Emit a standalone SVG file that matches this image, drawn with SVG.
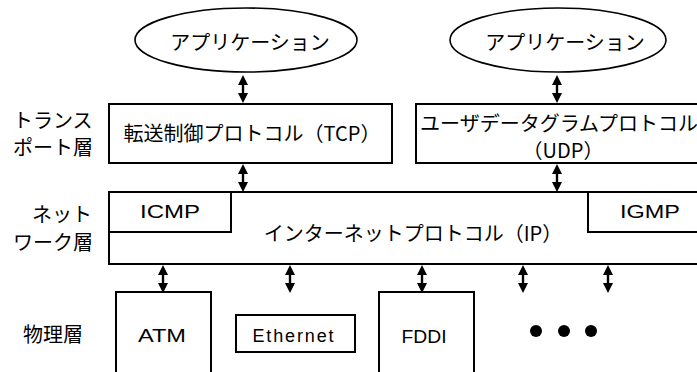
<svg xmlns="http://www.w3.org/2000/svg" xmlns:xlink="http://www.w3.org/1999/xlink" width="697" height="372" viewBox="0 0 697 372">
  <style>
    .box { fill: #fff; stroke: #000; stroke-width: 2; }
    .app { fill: #fff; stroke: #000; stroke-width: 1.6; }
    .jp { font-family: "Noto Sans CJK JP", "Noto Sans CJK SC", sans-serif; font-size: 20px; fill: #000; }
    .en { font-family: "Liberation Sans", Arial, sans-serif; font-size: 18px; fill: #000; }
    .mid { text-anchor: middle; }
  </style>
  <defs>
    <!-- vertical double-headed arrow, 28 px tall, origin at the top tip -->
    <g id="darrow">
      <path d="M0,0 L5,10 L-5,10 Z M0,28 L5,18 L-5,18 Z" fill="#000"/>
      <rect x="-1.2" y="8" width="2.4" height="12" fill="#000"/>
    </g>
  </defs>
  <rect width="697" height="372" fill="#fff"/>

  <!-- layer names -->
  <g id="label-transport">
    <text class="jp" x="13" y="128">トランス</text>
    <text class="jp" x="13" y="155">ポート層</text>
  </g>
  <g id="label-network">
    <text class="jp" x="32" y="222">ネット</text>
    <text class="jp" x="13" y="250">ワーク層</text>
  </g>
  <g id="label-physical">
    <text class="jp" x="23" y="342">物理層</text>
  </g>

  <!-- applications -->
  <g id="app-left">
    <ellipse class="app" cx="246" cy="40" rx="111" ry="32"/>
    <text class="jp mid" x="250" y="50">アプリケーション</text>
  </g>
  <g id="app-right">
    <ellipse class="app" cx="558" cy="40" rx="108" ry="32"/>
    <text class="jp mid" x="565" y="50">アプリケーション</text>
  </g>

  <!-- transport layer -->
  <g id="tcp">
    <rect class="box" x="109" y="104" width="283" height="59"/>
    <text class="jp mid" x="252" y="141">転送制御プロトコル（TCP）</text>
  </g>
  <g id="udp">
    <rect class="box" x="416" y="104" width="300" height="59"/>
    <text class="jp mid" x="559" y="131">ユーザデータグラムプロトコル</text>
    <text class="jp mid" x="563" y="158">（UDP）</text>
  </g>

  <!-- network layer -->
  <g id="ip">
    <rect class="box" x="109" y="192" width="610" height="72"/>
    <text class="jp mid" x="413" y="241">インターネットプロトコル（IP）</text>
  </g>
  <g id="icmp">
    <rect class="box" x="109" y="192" width="122" height="40"/>
    <text class="en mid" x="170" y="218" textLength="60" lengthAdjust="spacingAndGlyphs">ICMP</text>
  </g>
  <g id="igmp">
    <rect class="box" x="588" y="192" width="130" height="40"/>
    <text class="en mid" x="650" y="218" textLength="60" lengthAdjust="spacingAndGlyphs">IGMP</text>
  </g>

  <!-- physical layer -->
  <g id="atm">
    <rect class="box" x="116" y="292" width="95" height="90"/>
    <text class="en mid" x="162" y="342" textLength="48" lengthAdjust="spacingAndGlyphs">ATM</text>
  </g>
  <g id="ethernet">
    <rect class="box" x="236" y="315" width="119" height="37"/>
    <text class="en mid" x="293" y="342" textLength="81" lengthAdjust="spacing">Ethernet</text>
  </g>
  <g id="fddi">
    <rect class="box" x="379" y="292" width="95" height="90"/>
    <text class="en mid" x="424" y="343" textLength="45" lengthAdjust="spacingAndGlyphs">FDDI</text>
  </g>
  <g id="more">
    <circle cx="536" cy="331" r="6"/>
    <circle cx="564" cy="331" r="6"/>
    <circle cx="591" cy="331" r="6"/>
  </g>

  <!-- connectors -->
  <g id="connectors">
    <use xlink:href="#darrow" x="243" y="75"/>
    <use xlink:href="#darrow" x="557" y="75"/>
    <use xlink:href="#darrow" x="243" y="164"/>
    <use xlink:href="#darrow" x="557" y="164"/>
    <use xlink:href="#darrow" x="163" y="265"/>
    <use xlink:href="#darrow" x="290" y="265"/>
    <use xlink:href="#darrow" x="422" y="265"/>
    <use xlink:href="#darrow" x="523" y="265"/>
    <use xlink:href="#darrow" x="608" y="265"/>
  </g>
</svg>
